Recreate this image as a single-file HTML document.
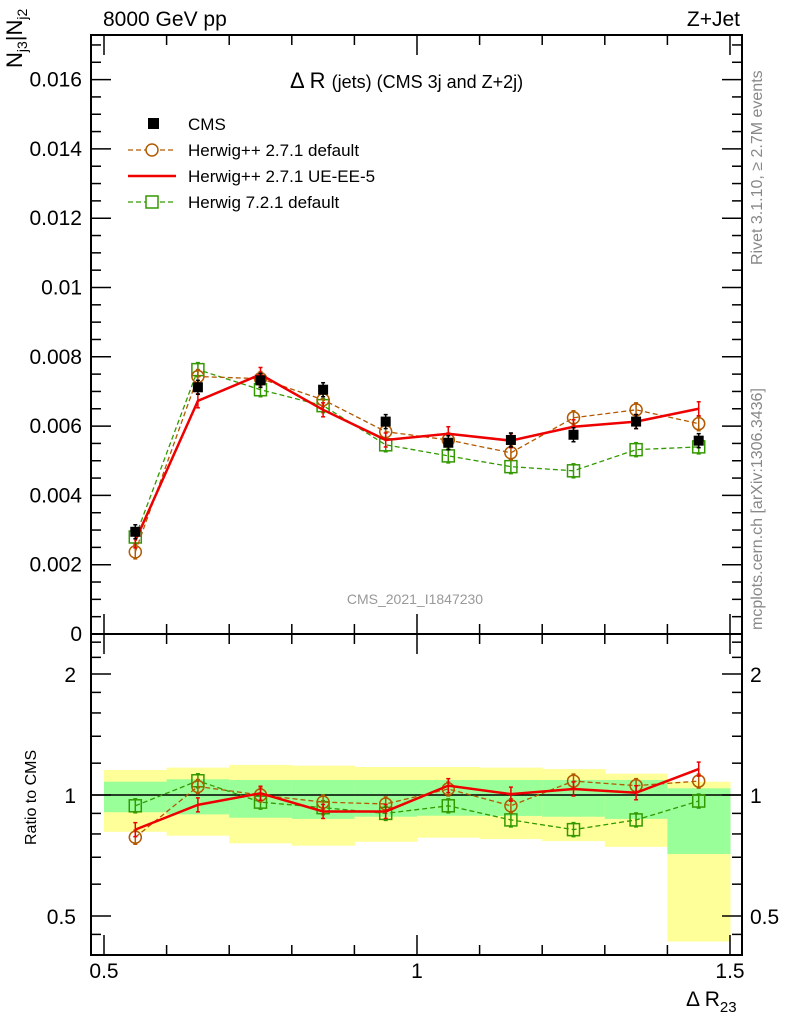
<!DOCTYPE html>
<html><head><meta charset="utf-8"><style>
body{margin:0;background:#fff}
svg text{font-family:"Liberation Sans",sans-serif}
</style></head><body>
<svg id="c" width="786" height="1024" xmlns="http://www.w3.org/2000/svg"></svg>
<script>
const xCenters=[0.55,0.65,0.75,0.85,0.95,1.05,1.15,1.25,1.35,1.45];
const cms=[0.00295,0.00712,0.00732,0.00705,0.00613,0.00552,0.0056,0.00575,0.00613,0.00558];
const hppDef=[0.00237,0.00743,0.00737,0.00676,0.00584,0.0056,0.00523,0.00624,0.00647,0.00607];
const hppUE=[0.00269,0.00673,0.00749,0.00647,0.0056,0.00578,0.00558,0.00598,0.00613,0.0065];
const h7=[0.0028,0.00763,0.00705,0.00659,0.00546,0.00514,0.00483,0.00471,0.00532,0.0054];
const rHppDef=[0.785,1.05,1.0,0.96,0.95,1.035,0.94,1.083,1.055,1.083];
const rHppUE=[0.82,0.945,1.01,0.91,0.91,1.055,1.005,1.035,1.013,1.16];
const rH7=[0.94,1.085,0.96,0.93,0.9,0.94,0.867,0.82,0.867,0.966];
const yelTop=[1.154,1.17,1.188,1.183,1.174,1.174,1.17,1.16,1.13,1.079];
const yelBot=[0.81,0.792,0.758,0.748,0.765,0.783,0.777,0.768,0.743,0.432];
const grnTop=[1.079,1.094,1.09,1.09,1.09,1.09,1.09,1.09,1.09,1.039];
const grnBot=[0.906,0.895,0.878,0.872,0.883,0.888,0.887,0.883,0.872,0.713];
const mainTicks=[0,0.002,0.004,0.006,0.008,0.01,0.012,0.014,0.016];
const mainTickLabels=["0","0.002","0.004","0.006","0.008","0.01","0.012","0.014","0.016"];
const ratioTicks=[0.5,1,2];
const xTicks=[0.5,1,1.5];

const NS="http://www.w3.org/2000/svg",svg=document.getElementById('c');
const L=91,R=742,T=35,MB=634,RB=955;
const X=v=>104+(v-0.5)*626;
const Y=v=>634-v*34650;
const YR=r=>795-121*Math.log2(r);
function el(t,a,p){const e=document.createElementNS(NS,t);for(const k in a)e.setAttribute(k,a[k]);(p||svg).appendChild(e);return e;}
function txt(s,a){const e=el('text',a);e.textContent=s;return e;}

xCenters.forEach((c,i)=>{
 const b=el('rect',{x:X(c-0.05),y:YR(yelTop[i]),width:X(c+0.05)-X(c-0.05)+0.5,height:YR(yelBot[i])-YR(yelTop[i]),fill:'#ffff99'});
 
 const g=el('rect',{x:X(c-0.05),y:YR(grnTop[i]),width:X(c+0.05)-X(c-0.05)+0.5,height:YR(grnBot[i])-YR(grnTop[i]),fill:'#99ff99'});
 
});
el('line',{x1:L,x2:R,y1:YR(1),y2:YR(1),stroke:'#000','stroke-width':1.5});

for(const [t,b] of [[T,MB],[MB,RB]]){const f=el('rect',{x:L,y:t,width:R-L,height:b-t,fill:'none',stroke:'#000','stroke-width':2});}

for(let v=0.5;v<=1.501;v+=0.1){const maj=Math.abs(v-Math.round(v*2)/2)<1e-6;const len=maj?20:10;
 for(const [t,b] of [[T,MB],[MB,RB]]){el('line',{x1:X(v),x2:X(v),y1:b,y2:b-len,stroke:'#000','stroke-width':1.5});el('line',{x1:X(v),x2:X(v),y1:t,y2:t+len,stroke:'#000','stroke-width':1.5});}}
xTicks.forEach(v=>{const t=txt(String(v),{x:X(v),y:978,'font-size':21,'text-anchor':'middle'});});

for(let v=0;v<=0.0172;v+=0.0005){const maj=Math.abs(v/0.002-Math.round(v/0.002))<1e-6;const len=maj?20:10;
 el('line',{x1:L,x2:L+len,y1:Y(v),y2:Y(v),stroke:'#000','stroke-width':1.5});el('line',{x1:R,x2:R-len,y1:Y(v),y2:Y(v),stroke:'#000','stroke-width':1.5});}
mainTicks.forEach((v,i)=>{const t=txt(mainTickLabels[i],{x:82,y:Y(v)+7,'font-size':21,'text-anchor':'end'});});

[0.45,0.6,0.7,0.8,0.9,1.2,1.4,1.6,1.8,2.2,2.4].forEach(r=>{el('line',{x1:L,x2:L+10,y1:YR(r),y2:YR(r),stroke:'#000','stroke-width':1.5});el('line',{x1:R,x2:R-10,y1:YR(r),y2:YR(r),stroke:'#000','stroke-width':1.5});});
ratioTicks.forEach(r=>{el('line',{x1:L,x2:L+20,y1:YR(r),y2:YR(r),stroke:'#000','stroke-width':1.5});el('line',{x1:R,x2:R-20,y1:YR(r),y2:YR(r),stroke:'#000','stroke-width':1.5});
 const a=txt(String(r),{x:76,y:YR(r)+8,'font-size':21,'text-anchor':'end'});
 const b=txt(String(r),{x:750,y:YR(r)+8,'font-size':21});});

function series(vals,fy,color,dash,marker,name,w){
 const pts=xCenters.map((c,i)=>X(c)+','+fy(vals[i])).join(' ');
 const pl=el('polyline',{points:pts,fill:'none',stroke:color,'stroke-width':w,'stroke-dasharray':dash||'none'});
 
 xCenters.forEach((c,i)=>{const x=X(c),y=fy(vals[i]);let m;
  el('line',{x1:x,x2:x,y1:y-7,y2:y+7,stroke:color,'stroke-width':1.5});
  el('line',{x1:x-2,x2:x+2,y1:y-7,y2:y-7,stroke:color,'stroke-width':1.5});
  el('line',{x1:x-2,x2:x+2,y1:y+7,y2:y+7,stroke:color,'stroke-width':1.5});
  if(marker==='circle')m=el('circle',{cx:x,cy:y,r:6,fill:'none',stroke:color,'stroke-width':1.5});
  else if(marker==='square')m=el('rect',{x:x-6,y:y-6,width:12,height:12,fill:'none',stroke:color,'stroke-width':1.5});
  else if(marker==='filled')m=el('rect',{x:x-5,y:y-5,width:10,height:10,fill:'#000'});
  else {m=el('circle',{cx:x,cy:y,r:1,fill:color});}
  });
}
series(h7,Y,'#339900','5,3','square','herwig7',1.3);
series(hppDef,Y,'#b35900','5,3','circle','herwigpp-default',1.3);
series(hppUE,Y,'#ee0000',null,'none','herwigpp-ue',2.5);
series(cms,Y,'#000',null,'filled','cms',0);
series(rH7,YR,'#339900','5,3','square','ratio-herwig7',1.3);
series(rHppDef,YR,'#b35900','5,3','circle','ratio-herwigpp-default',1.3);
series(rHppUE,YR,'#ee0000',null,'none','ratio-herwigpp-ue',2.5);
</script>
<svg style="position:absolute;left:0;top:0" width="786" height="1024" xmlns="http://www.w3.org/2000/svg" font-family="Liberation Sans, sans-serif">
<text x="103" y="26" font-size="21">8000 GeV pp</text>
<text x="740" y="26" font-size="21" text-anchor="end">Z+Jet</text>
<text transform="translate(22,68) rotate(-90)" font-size="22">N<tspan font-size="14" dy="5">j3</tspan><tspan dy="-5">|N</tspan><tspan font-size="14" dy="5">j2</tspan></text>
<text x="290" y="88" font-size="22">Δ R <tspan font-size="18">(jets) (CMS 3j and Z+2j)</tspan></text>
<g font-size="17">
<rect x="148" y="118" width="11" height="11" fill="#000"/>
<text x="188" y="130">CMS</text>
<line x1="128" x2="176" y1="150" y2="150" stroke="#b35900" stroke-dasharray="5,3" stroke-width="1.3"/><circle cx="152" cy="150" r="6" fill="#fff" stroke="#b35900" stroke-width="1.5"/>
<text x="188" y="156">Herwig++ 2.7.1 default</text>
<line x1="128" x2="176" y1="176" y2="176" stroke="#ee0000" stroke-width="2.5"/>
<text x="188" y="182">Herwig++ 2.7.1 UE-EE-5</text>
<line x1="128" x2="176" y1="202" y2="202" stroke="#339900" stroke-dasharray="5,3" stroke-width="1.3"/><rect x="146" y="196" width="12" height="12" fill="#fff" stroke="#339900" stroke-width="1.5"/>
<text x="188" y="208">Herwig 7.2.1 default</text>
</g>
<text x="415" y="604" font-size="14" fill="#999" text-anchor="middle">CMS_2021_I1847230</text>
<text transform="translate(762,265) rotate(-90)" font-size="16" fill="#888">Rivet 3.1.10, ≥ 2.7M events</text>
<text transform="translate(762,630) rotate(-90)" font-size="16" fill="#888">mcplots.cern.ch [arXiv:1306.3436]</text>
<text transform="translate(36,845) rotate(-90)" font-size="16">Ratio to CMS</text>
<text x="686" y="1006" font-size="21">Δ R<tspan font-size="15" dy="6">23</tspan></text>
</svg>
</body></html>
